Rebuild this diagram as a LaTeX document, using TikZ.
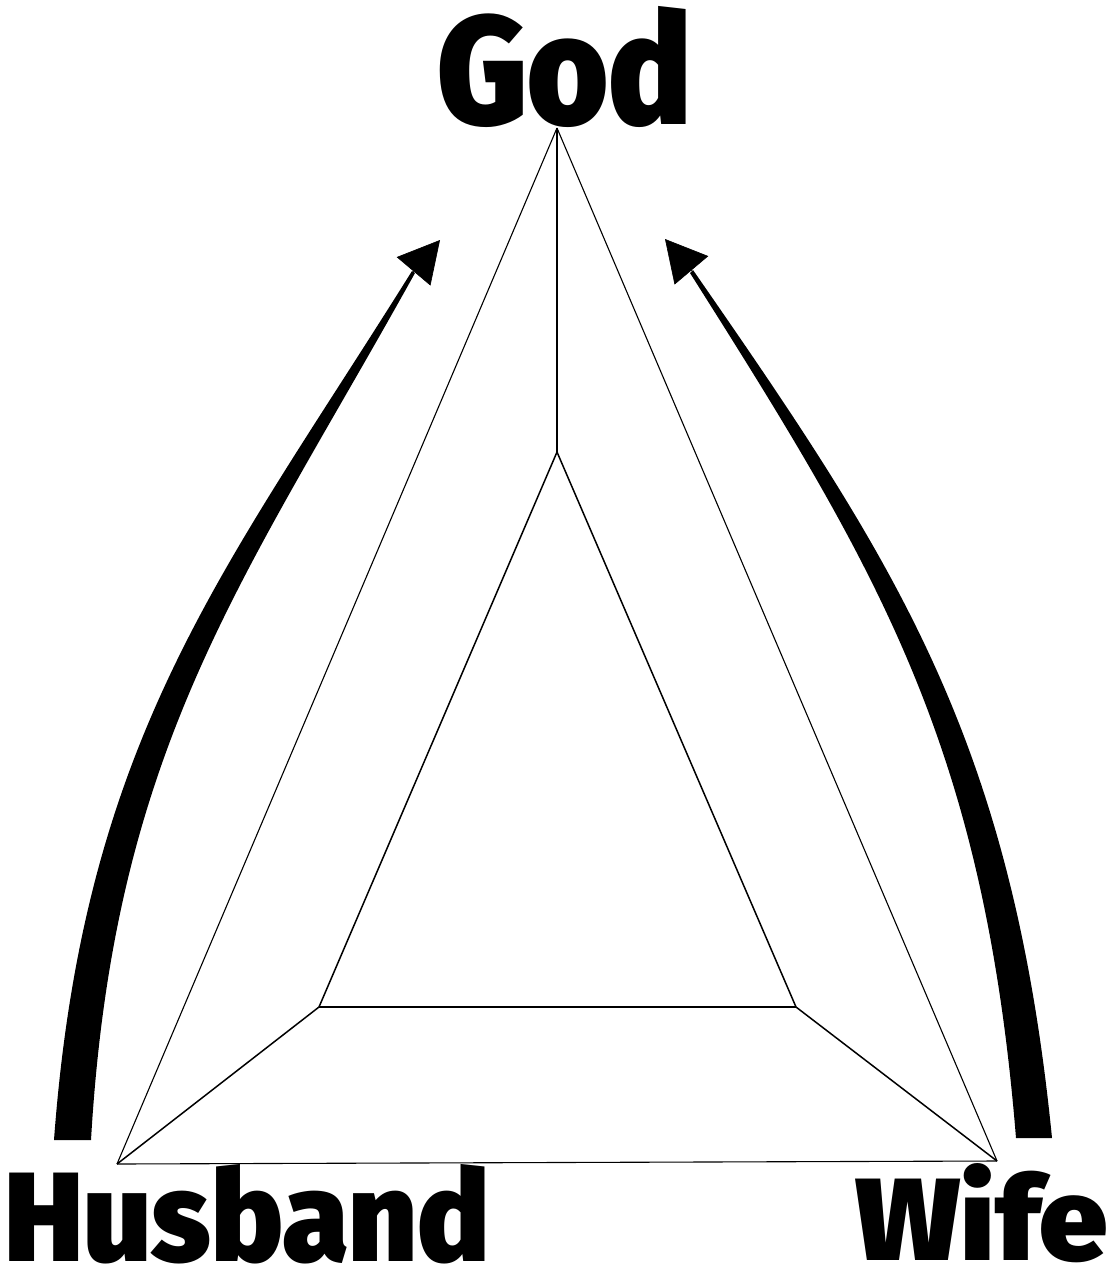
\documentclass[tikz,border=0pt]{standalone}
\usepackage{fontspec}
\usepackage{graphicx}
\usetikzlibrary{arrows.meta}
\IfFontExistsTF{Fira Sans Black}{\newfontfamily\heavyfont{Fira Sans Black}}{%
  \IfFontExistsTF{Fira Sans Heavy}{\newfontfamily\heavyfont{Fira Sans Heavy}}{%
    \IfFontExistsTF{Lato Black}{\newfontfamily\heavyfont{Lato Black}}{%
      \newfontfamily\heavyfont{Liberation Sans Bold}}}}
\begin{document}
\begin{tikzpicture}[x=1pt, y=-1pt, line join=round,
    word/.style={inner sep=0pt, anchor=south west, font=\heavyfont},
    edge/.style={line width=1.1pt},
    rim/.style={line width=1.5pt},
    head/.style={-{Triangle[length=41pt, width=44pt]}, line width=0.6pt}]
  \useasboundingbox (0,0) rectangle (1115,1272);
  \node[word] (god) at (437,128) {\resizebox{255pt}{118pt}{God}};
  \node[word] (husband) at (4,1264) {\resizebox{486pt}{97pt}{Husband}};
  \node[word] (wife) at (855,1263) {\resizebox{252pt}{97pt}{Wife}};
  \coordinate (apex) at (557,128);
  \coordinate (hcorner) at (117,1164);
  \coordinate (wcorner) at (997,1161);
  \coordinate (itop) at (557,452);
  \coordinate (ileft) at (319,1007);
  \coordinate (iright) at (796,1007);
  \draw[edge] (apex) -- (hcorner);
  \draw[edge] (apex) -- (wcorner);
  \draw[edge] (hcorner) -- (wcorner);
  \draw[edge] (apex) -- (itop);
  \draw[rim] (itop) -- (ileft);
  \draw[rim] (ileft) -- (iright);
  \draw[rim] (iright) -- (itop);
  \draw[rim] (hcorner) -- (ileft);
  \draw[rim] (wcorner) -- (iright);
  \coordinate (hneck) at (413,272);
  \coordinate (htip) at (440,240);
  \coordinate (wneck) at (692,271);
  \coordinate (wtip) at (665,239);
  \fill (54,1140) .. controls (84,735) and (226,569) .. (412,271)
    -- (415,273) .. controls (244,581) and (114,745) .. (91,1140) -- cycle;
  \fill (1052,1138) .. controls (1012,736) and (894,560) .. (693,270)
    -- (690,273) .. controls (878,570) and (984,744) .. (1016,1138) -- cycle;
  \draw[head] (hneck) -- (htip);
  \draw[head] (wneck) -- (wtip);
\end{tikzpicture}
\end{document}
